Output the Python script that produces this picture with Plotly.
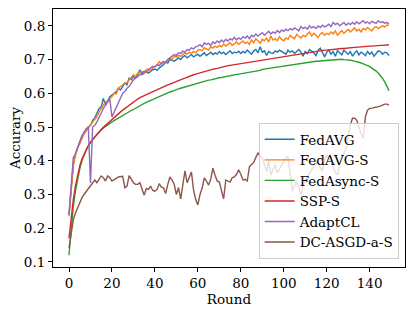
import plotly.graph_objects as go

rounds = list(range(150))

fedavg = [
    0.24, 0.33, 0.39, 0.42, 0.44, 0.455, 0.47, 0.48, 0.49, 0.50,
    0.505, 0.52, 0.527, 0.54, 0.555, 0.56, 0.585, 0.565, 0.58, 0.59,
    0.595, 0.60, 0.605, 0.615, 0.61, 0.62, 0.63, 0.625, 0.645, 0.64,
    0.65, 0.645, 0.655, 0.67, 0.655, 0.66, 0.665, 0.66, 0.665, 0.67,
    0.672, 0.668, 0.675, 0.68, 0.685, 0.694, 0.69, 0.70, 0.698, 0.695,
    0.70, 0.705, 0.70, 0.708, 0.712, 0.705, 0.71, 0.715, 0.708, 0.712,
    0.716, 0.71, 0.714, 0.72, 0.712, 0.718, 0.722, 0.715, 0.72, 0.716,
    0.724, 0.718, 0.722, 0.715, 0.72, 0.726, 0.718, 0.722, 0.72, 0.725,
    0.718, 0.724, 0.72, 0.728, 0.722, 0.716, 0.726, 0.73, 0.72, 0.738,
    0.722, 0.726, 0.712, 0.724, 0.72, 0.718, 0.726, 0.722, 0.728, 0.724,
    0.72, 0.716, 0.728, 0.722, 0.726, 0.718, 0.724, 0.73, 0.722, 0.71,
    0.724, 0.718, 0.73, 0.726, 0.72, 0.712, 0.728, 0.734, 0.72, 0.708,
    0.722, 0.728, 0.716, 0.724, 0.71, 0.726, 0.72, 0.714, 0.728, 0.722,
    0.716, 0.724, 0.71, 0.72, 0.726, 0.714, 0.722, 0.718, 0.712, 0.724,
    0.716, 0.722, 0.71, 0.718, 0.726, 0.724, 0.716, 0.722, 0.72, 0.712,
]

fedavg_s = [
    0.235, 0.32, 0.385, 0.415, 0.44, 0.45, 0.465, 0.48, 0.488, 0.498,
    0.505, 0.515, 0.522, 0.53, 0.545, 0.555, 0.565, 0.575, 0.575, 0.585,
    0.59, 0.60, 0.598, 0.615, 0.62, 0.625, 0.63, 0.632, 0.64, 0.65,
    0.655, 0.65, 0.66, 0.662, 0.665, 0.66, 0.67, 0.672, 0.668, 0.675,
    0.68, 0.682, 0.694, 0.688, 0.69, 0.692, 0.70, 0.705, 0.70, 0.71,
    0.708, 0.712, 0.71, 0.715, 0.72, 0.716, 0.722, 0.718, 0.724, 0.72,
    0.728, 0.73, 0.726, 0.735, 0.732, 0.728, 0.738, 0.734, 0.74, 0.736,
    0.742, 0.738, 0.746, 0.74, 0.745, 0.75, 0.742, 0.748, 0.752, 0.745,
    0.75, 0.755, 0.748, 0.752, 0.745, 0.758, 0.75, 0.762, 0.755, 0.748,
    0.76, 0.756, 0.764, 0.752, 0.77, 0.758, 0.762, 0.756, 0.768, 0.76,
    0.756, 0.764, 0.76, 0.772, 0.766, 0.762, 0.775, 0.768, 0.764, 0.772,
    0.768, 0.776, 0.782, 0.77, 0.778, 0.772, 0.765, 0.776, 0.78, 0.772,
    0.778, 0.774, 0.782, 0.776, 0.785, 0.772, 0.78, 0.786, 0.778, 0.784,
    0.79, 0.782, 0.788, 0.794, 0.785, 0.79, 0.782, 0.792, 0.788, 0.795,
    0.79, 0.785, 0.794, 0.798, 0.792, 0.796, 0.80, 0.797, 0.802, 0.803,
]

fedasync_s = [
    0.12, 0.195, 0.265, 0.31, 0.345, 0.375, 0.40, 0.418, 0.432, 0.444,
    0.454, 0.463, 0.471, 0.478, 0.485, 0.491, 0.497, 0.502, 0.507, 0.511,
    0.515, 0.519, 0.523, 0.527, 0.531, 0.535, 0.539, 0.542, 0.546, 0.549,
    0.552, 0.556, 0.56, 0.563, 0.567, 0.57, 0.573, 0.576, 0.579, 0.582,
    0.585, 0.588, 0.591, 0.593, 0.596, 0.599, 0.601, 0.604, 0.606, 0.609,
    0.611, 0.613, 0.615, 0.617, 0.619, 0.621, 0.623, 0.625, 0.627, 0.629,
    0.631, 0.633, 0.634, 0.636, 0.637, 0.639, 0.64, 0.642, 0.643, 0.645,
    0.646, 0.647, 0.649, 0.65, 0.651, 0.652, 0.654, 0.655, 0.656, 0.657,
    0.658, 0.659, 0.661, 0.662, 0.663, 0.664, 0.665, 0.666, 0.667, 0.668,
    0.671, 0.672, 0.673, 0.674, 0.675, 0.676, 0.677, 0.678, 0.679, 0.68,
    0.682, 0.683, 0.684, 0.685, 0.686, 0.687, 0.688, 0.689, 0.69, 0.69,
    0.691, 0.692, 0.693, 0.693, 0.694, 0.695, 0.695, 0.696, 0.696, 0.697,
    0.698, 0.698, 0.699, 0.699, 0.70, 0.70, 0.70, 0.701, 0.70, 0.70,
    0.699, 0.698, 0.697, 0.696, 0.694, 0.692, 0.69, 0.688, 0.685, 0.682,
    0.679, 0.675, 0.671, 0.666, 0.66, 0.653, 0.644, 0.634, 0.622, 0.608,
]

ssp_s = [
    0.17, 0.235, 0.285, 0.325, 0.36, 0.385, 0.405, 0.42, 0.432, 0.445,
    0.455, 0.463, 0.471, 0.479, 0.486, 0.493, 0.499, 0.505, 0.511, 0.516,
    0.521, 0.527, 0.533, 0.539, 0.545, 0.55, 0.555, 0.56, 0.565, 0.57,
    0.575, 0.579, 0.583, 0.587, 0.59, 0.594, 0.597, 0.60, 0.603, 0.606,
    0.609, 0.612, 0.614, 0.617, 0.62, 0.622, 0.625, 0.627, 0.63, 0.632,
    0.636, 0.638, 0.641, 0.643, 0.645, 0.648, 0.65, 0.652, 0.655, 0.657,
    0.659, 0.661, 0.663, 0.665, 0.666, 0.668, 0.67, 0.671, 0.673, 0.674,
    0.676, 0.677, 0.679, 0.68, 0.682, 0.683, 0.684, 0.686, 0.687, 0.688,
    0.689, 0.69, 0.692, 0.693, 0.694, 0.695, 0.696, 0.697, 0.698, 0.699,
    0.70, 0.701, 0.702, 0.703, 0.704, 0.705, 0.706, 0.707, 0.708, 0.709,
    0.71, 0.711, 0.712, 0.713, 0.714, 0.715, 0.716, 0.717, 0.718, 0.719,
    0.72, 0.721, 0.722, 0.723, 0.724, 0.725, 0.725, 0.726, 0.727, 0.728,
    0.728, 0.729, 0.73, 0.73, 0.731, 0.732, 0.732, 0.733, 0.733, 0.734,
    0.734, 0.735, 0.736, 0.736, 0.737, 0.737, 0.738, 0.738, 0.739, 0.739,
    0.74, 0.74, 0.741, 0.741, 0.742, 0.742, 0.742, 0.743, 0.743, 0.744,
]

adaptcl = [
    0.24, 0.335, 0.41, 0.42, 0.44, 0.46, 0.475, 0.485, 0.495, 0.50,
    0.334, 0.50, 0.505, 0.515, 0.53, 0.545, 0.555, 0.565, 0.575, 0.583,
    0.53, 0.545, 0.56, 0.575, 0.59, 0.60, 0.605, 0.615, 0.62, 0.63,
    0.64, 0.645, 0.65, 0.655, 0.66, 0.665, 0.662, 0.67, 0.675, 0.68,
    0.678, 0.685, 0.682, 0.69, 0.695, 0.69, 0.70, 0.705, 0.71, 0.715,
    0.712, 0.72, 0.718, 0.725, 0.722, 0.73, 0.728, 0.735, 0.732, 0.738,
    0.74, 0.744, 0.738, 0.75, 0.745, 0.748, 0.742, 0.752, 0.748, 0.755,
    0.75, 0.758, 0.752, 0.76, 0.755, 0.762, 0.758, 0.766, 0.758, 0.764,
    0.76, 0.768, 0.764, 0.77, 0.762, 0.772, 0.768, 0.776, 0.77, 0.774,
    0.78, 0.772, 0.778, 0.784, 0.776, 0.782, 0.778, 0.786, 0.78, 0.788,
    0.784, 0.79, 0.786, 0.792, 0.788, 0.794, 0.79, 0.785, 0.798, 0.792,
    0.796, 0.79, 0.80, 0.794, 0.798, 0.792, 0.80, 0.795, 0.802, 0.797,
    0.80, 0.805, 0.798, 0.81, 0.804, 0.808, 0.80, 0.806, 0.81, 0.802,
    0.808, 0.804, 0.81, 0.805, 0.812, 0.806, 0.81, 0.815, 0.808, 0.812,
    0.806, 0.814, 0.81, 0.808, 0.815, 0.81, 0.812, 0.808, 0.81, 0.806,
]

dc_asgd_a_s = [
    0.141, 0.19, 0.225, 0.245, 0.26, 0.277, 0.29, 0.30, 0.31, 0.318,
    0.326, 0.334, 0.343, 0.335, 0.345, 0.355, 0.35, 0.34, 0.355, 0.35,
    0.34, 0.345, 0.348, 0.352, 0.354, 0.354, 0.32, 0.325, 0.356, 0.345,
    0.335, 0.33, 0.33, 0.335, 0.318, 0.298, 0.318, 0.315, 0.325, 0.312,
    0.31, 0.315, 0.332, 0.322, 0.32, 0.303, 0.33, 0.352, 0.343, 0.33,
    0.30, 0.32, 0.287, 0.33, 0.37, 0.335, 0.352, 0.367, 0.313, 0.285,
    0.269, 0.30, 0.319, 0.349, 0.34, 0.328, 0.345, 0.378, 0.357, 0.34,
    0.337, 0.31, 0.287, 0.343, 0.34, 0.337, 0.35, 0.352, 0.36, 0.373,
    0.36, 0.343, 0.345, 0.34, 0.382, 0.39, 0.395, 0.41, 0.423, 0.415,
    0.408, 0.39, 0.368, 0.40, 0.358, 0.375, 0.388, 0.365, 0.375, 0.385,
    0.395, 0.408, 0.413, 0.358, 0.31, 0.325, 0.338, 0.32, 0.298, 0.328,
    0.34, 0.349, 0.36, 0.375, 0.385, 0.39, 0.397, 0.38, 0.368, 0.405,
    0.417, 0.405, 0.397, 0.38, 0.365, 0.358, 0.388, 0.405, 0.423, 0.438,
    0.47, 0.506, 0.526, 0.526, 0.52, 0.497, 0.48, 0.467, 0.53, 0.55,
    0.555, 0.556, 0.557, 0.558, 0.56, 0.562, 0.565, 0.568, 0.568, 0.565,
]

series_names = ["FedAVG", "FedAVG-S", "FedAsync-S", "SSP-S", "AdaptCL", "DC-ASGD-a-S"]
series_values = [fedavg, fedavg_s, fedasync_s, ssp_s, adaptcl, dc_asgd_a_s]
colors = ["#1f77b4", "#ff7f0e", "#2ca02c", "#d62728", "#9467bd", "#8c564b"]

x_ticks = [0, 20, 40, 60, 80, 100, 120, 140]
y_ticks = [0.1, 0.2, 0.3, 0.4, 0.5, 0.6, 0.7, 0.8]

FONT = "DejaVu Serif"
FS = 13.5

fig = go.Figure()
for name, vals, col in zip(series_names, series_values, colors):
    fig.add_trace(go.Scatter(
        x=rounds, y=vals, mode="lines", name=name,
        line=dict(color=col, width=1.4),
    ))

axis_common = dict(
    showline=True, mirror=True, linecolor="black", linewidth=1,
    ticks="outside", ticklen=4, tickwidth=1, tickcolor="black",
    showgrid=False, zeroline=False, automargin=False,
    tickfont=dict(family=FONT, size=FS, color="black"),
)

fig.update_layout(
    width=415, height=311,
    margin=dict(l=53, r=10, t=9, b=44),
    paper_bgcolor="white", plot_bgcolor="white",
    font=dict(family=FONT, size=FS, color="black"),
    xaxis=dict(
        range=[-7.45, 156.45], tickvals=x_ticks,
        title=dict(text="Round", font=dict(family=FONT, size=FS), standoff=1),
        **axis_common,
    ),
    yaxis=dict(
        range=[0.085, 0.85], tickvals=y_ticks, tickformat=".1f",
        title=dict(text="Accurary", font=dict(family=FONT, size=FS), standoff=0),
        **axis_common,
    ),
    legend=dict(
        x=0.982, y=0.031, xanchor="right", yanchor="bottom",
        bgcolor="rgba(255,255,255,0.8)", bordercolor="#cccccc", borderwidth=1,
        font=dict(family=FONT, size=FS, color="black"),
        itemwidth=30,
    ),
    showlegend=True,
)

fig.write_html(
    "out.html",
    config={"displayModeBar": False},
    post_script="document.body.style.margin='0px';document.body.style.overflow='hidden';",
)
